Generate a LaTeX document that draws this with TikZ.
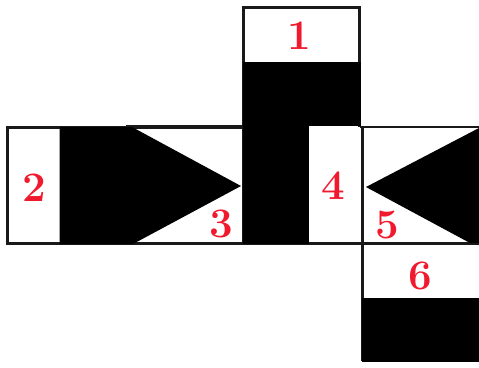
\documentclass[tikz,border=0pt]{standalone}
\usepackage{xcolor}
\usepackage{tikz}
\definecolor{numred}{RGB}{240,25,45}
\tikzset{
  outline/.style={draw=black!90, line width=2.6pt},
  numlabel/.style={text=numred, font=\fontsize{42}{42}\selectfont\bfseries, inner sep=0pt}
}

\begin{document}
\begin{tikzpicture}[x=1pt, y=-1pt]
\useasboundingbox (0,0) rectangle (479,367);
% Faces
\draw[outline] (359.5,127) -- (359.5,7.5) -- (243.5,7.5) -- (243.5,244);
\draw[outline] (7.5,127.5) rectangle (243.5,243.5);
\draw[outline] (359.5,127) -- (479,127);
\draw[outline] (362.5,127) -- (362.5,361);
\draw[outline] (243.5,243.5) -- (479,243.5);
\draw[outline] (126,126.5) -- (243.5,126.5);

% Black areas
\fill[black] (243,62) rectangle (360.5,126);
\fill[black] (243,62) rectangle (309,244);
\fill[black] (59.5,127) -- (132,127) -- (241,186) -- (133,244) -- (59.5,244) -- cycle;
\fill[black] (366,187) -- (479,128) -- (479,243) -- (470,243) -- cycle;
\fill[black] (362,298) rectangle (479,362);

% Numbers
\node[numlabel] (one) at (299,36) {1};
\node[numlabel] (two) at (34,188) {2};
\node[numlabel] (three) at (221,224) {3};
\node[numlabel] (four) at (333,186) {4};
\node[numlabel] (five) at (387,225) {5};
\node[numlabel] (six) at (420,276) {6};
\end{tikzpicture}
\end{document}
